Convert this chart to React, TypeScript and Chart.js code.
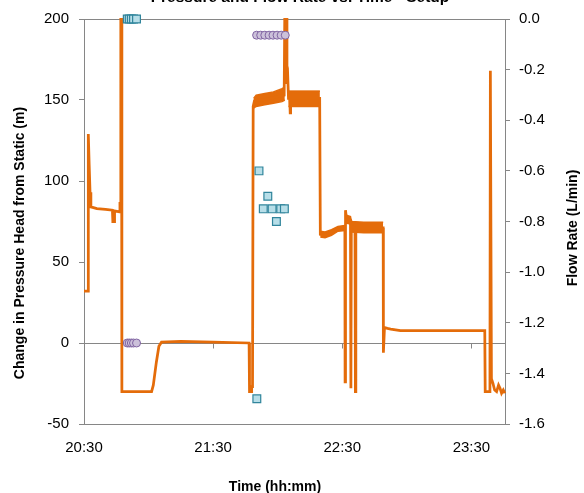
import React, { useEffect, useRef } from "react";
import { Chart, registerables } from "chart.js";

Chart.register(...registerables);

// ---- data (x = minutes after 20:30) ----
const START_MINUTES = 20 * 60 + 30;
const xTickMinutes = [0, 60, 120, 180];

// Change in pressure head from static (m), left axis
const headTime = [0, 1.9, 2.0, 2.4, 2.8, 3.2, 6, 10, 13.2, 13.4, 14.0, 14.2, 16.5, 16.7, 16.9, 17.1, 17.4, 17.6, 31.4, 32.2, 33.6, 34.8, 36.0, 45, 60, 76.7, 76.9, 77.6, 77.9, 78.3, 78.6, 79.2, 85, 93.0, 93.3, 93.6, 94.1, 94.3, 94.7, 95.0, 95.6, 95.8, 96.0, 109.5, 109.8, 112, 115, 118, 121.2, 121.3, 121.5, 121.9, 123.8, 124.0, 124.2, 125.9, 126.1, 126.3, 139.0, 139.1, 139.6, 141, 142.5, 147, 170, 186.2, 186.4, 188.6, 188.8, 189.3, 190.0, 190.8, 191.7, 192.6, 193.3, 194.0, 194.8, 195.5];
const headValue = [32, 32, 129, 110, 93, 84, 83, 82.5, 82, 75, 75, 81.5, 81, 87, 82, 260, 260, -30, -30, -26, -12, -2, 0.5, 1, 0.5, 0, -30, -30, -27, -27, 146, 149.5, 150.5, 153, 153, 260, 260, 160, 163, 151, 151, 142, 151, 151, 67, 66.5, 68.5, 70.5, 71, -24, 82, 77, 76, -28, 72, 71, -30, 71, 71, -6, 9.5, 9, 8.6, 7.6, 7.6, 7.6, -30, -30, 168, -22, -25, -29, -30, -26, -28, -31, -29, -31];

// pressure fluctuation envelopes (m)
const band1Time = [78.8, 80, 84, 88, 92, 93.3];
const band1High = [151, 153, 154, 155, 157, 158];
const band1Low = [145, 146, 147, 148, 149, 150];
const band2Time = [95.0, 100, 105, 109.6];
const band2High = [155.5, 155.5, 155.5, 155.5];
const band2Low = [146, 146, 146, 146];
const band3Time = [109.8, 112, 115, 118, 121.2];
const band3High = [69, 68.5, 70, 72, 72.5];
const band3Low = [65.5, 65, 66.5, 69, 69.5];
const band4Time = [121.6, 123.8, 124.2, 130, 135, 139.0];
const band4High = [79, 78, 75, 74.5, 74.5, 74.5];
const band4Low = [74, 73.5, 68.5, 68, 68, 68];

// measured flow rate (L/min), right axis
const flowTime = [20.1, 21.0, 22.0, 23.0, 24.4, 80.3, 81.3, 83.3, 85.4, 87.4, 89.4, 91.4, 93.1];
const flowValue = [0, 0, 0, 0, 0, -1.5, -0.6, -0.75, -0.7, -0.75, -0.8, -0.75, -0.75];

// measured head (m), left axis
const measTime = [20.1, 21.0, 22.0, 23.0, 24.4, 80.2, 82.1, 84.0, 86.0, 87.8, 89.7, 91.6, 93.5];
const measValue = [0, 0, 0, 0, 0, 190, 190, 190, 190, 190, 190, 190, 190];

const chartTitle = "Pressure and Flow Rate vs. Time - Setup";
const leftTitle = "Change in Pressure Head from Static (m)";
const rightTitle = "Flow Rate (L/min)";
const bottomTitle = "Time (hh:mm)";

const FONT = "'Liberation Sans', Arial, sans-serif";
const ORANGE = "#E46C0A";
const AXIS = "#868686";

const pts = (t: number[], v: number[]) => t.map((x, i) => ({ x, y: v[i] }));
const fmtTime = (m: number) => {
  const total = Math.round(START_MINUTES + m);
  const h = Math.floor(total / 60);
  const mm = total % 60;
  return `${h}:${mm < 10 ? "0" + mm : mm}`;
};

const decor = {
  id: "decor",
  beforeDatasetsDraw(chart: any) {
    const { ctx, chartArea, scales } = chart;
    const y0 = Math.round(scales.y.getPixelForValue(0)) + 0.5;
    ctx.save();
    ctx.strokeStyle = AXIS;
    ctx.lineWidth = 1;
    ctx.beginPath();
    ctx.moveTo(chartArea.left, y0);
    ctx.lineTo(chartArea.right, y0);
    ctx.moveTo(chartArea.left, chartArea.top + 0.5);
    ctx.lineTo(chartArea.right, chartArea.top + 0.5);
    xTickMinutes.forEach((v) => {
      const px = Math.round(scales.x.getPixelForValue(v)) + 0.5;
      ctx.moveTo(px, y0);
      ctx.lineTo(px, y0 + 5);
    });
    ctx.stroke();
    ctx.restore();
  },
  afterDraw(chart: any) {
    const { ctx } = chart;
    ctx.save();
    ctx.fillStyle = "#000";
    ctx.textAlign = "center";
    ctx.font = `bold 15.5px ${FONT}`;
    ctx.textBaseline = "alphabetic";
    ctx.fillText(chartTitle, 300, 1.5);
    ctx.font = `bold 14px ${FONT}`;
    ctx.textBaseline = "middle";
    ctx.save();
    ctx.translate(20, 243);
    ctx.rotate(-Math.PI / 2);
    ctx.fillText(leftTitle, 0, 0);
    ctx.restore();
    ctx.save();
    ctx.translate(573, 228);
    ctx.rotate(-Math.PI / 2);
    ctx.fillText(rightTitle, 0, 0);
    ctx.restore();
    ctx.fillText(bottomTitle, 275, 487);
    ctx.restore();
  },
};

export default function App() {
  const ref = useRef<HTMLCanvasElement>(null);
  useEffect(() => {
    if (!ref.current) return;
    const bandSets: any[] = [];
    const bands = [
      [band1Time, band1High, band1Low],
      [band2Time, band2High, band2Low],
      [band3Time, band3High, band3Low],
      [band4Time, band4High, band4Low],
    ];
    const baseCount = 3;
    bands.forEach(([t, hi, lo], k) => {
      const hiIndex = baseCount + k * 2;
      bandSets.push({
        label: "band high " + k,
        data: pts(t, hi),
        yAxisID: "y",
        borderColor: ORANGE,
        borderWidth: 1.5,
        pointRadius: 0,
        fill: false,
        order: 5,
      });
      bandSets.push({
        label: "band low " + k,
        data: pts(t, lo),
        yAxisID: "y",
        borderColor: ORANGE,
        backgroundColor: ORANGE,
        borderWidth: 1.5,
        pointRadius: 0,
        fill: hiIndex,
        order: 5,
      });
    });
    const chart = new Chart(ref.current, {
      type: "line",
      data: {
        datasets: [
          {
            label: "Flow rate",
            data: pts(flowTime, flowValue),
            yAxisID: "y2",
            showLine: false,
            pointStyle: "rect",
            pointRadius: 5.5,
            pointBackgroundColor: "#B7DEE8",
            pointBorderColor: "#31859C",
            pointBorderWidth: 1.2,
            clip: false,
            order: 0,
          },
          {
            label: "Measured head",
            data: pts(measTime, measValue),
            yAxisID: "y",
            showLine: false,
            pointStyle: "circle",
            pointRadius: 4,
            pointBackgroundColor: "#CCC1DA",
            pointBorderColor: "#8064A2",
            pointBorderWidth: 1,
            clip: false,
            order: 1,
          },
          {
            label: "Pressure head",
            data: pts(headTime, headValue),
            yAxisID: "y",
            borderColor: ORANGE,
            borderWidth: 2.75,
            pointRadius: 0,
            tension: 0,
            fill: false,
            clip: 1,
            order: 4,
          },
          ...bandSets,
        ],
      } as any,
      options: {
        responsive: false,
        animation: false,
        layout: { padding: { top: 12, left: 0, right: 0, bottom: 0 } },
        plugins: { legend: { display: false }, tooltip: { enabled: false }, title: { display: false } },
        scales: {
          x: {
            type: "linear",
            min: 0,
            max: 195.6,
            afterBuildTicks: (s: any) => {
              s.ticks = xTickMinutes.map((value) => ({ value }));
            },
            afterFit: (s: any) => {
              s.height = 69;
            },
            ticks: {
              callback: (v: any) => fmtTime(Number(v)),
              font: { family: FONT, size: 15 },
              color: "#000",
              padding: 15,
              maxRotation: 0,
              autoSkip: false,
            },
            grid: { drawOnChartArea: false, drawTicks: false, color: AXIS },
            border: { display: true, color: AXIS },
          },
          y: {
            position: "left",
            min: -50,
            max: 200,
            ticks: { stepSize: 50, font: { family: FONT, size: 15 }, color: "#000", padding: 10 },
            afterFit: (s: any) => {
              s.width = 84;
            },
            grid: { drawOnChartArea: false, drawTicks: true, tickLength: 5, color: AXIS },
            border: { display: true, color: AXIS },
          },
          y2: {
            position: "right",
            min: -1.6,
            max: 0,
            ticks: {
              stepSize: 0.2,
              font: { family: FONT, size: 15 },
              color: "#000",
              padding: 9,
              callback: (v: any) => Number(v).toFixed(1),
            },
            afterFit: (s: any) => {
              s.width = 79;
            },
            grid: { drawOnChartArea: false, drawTicks: true, tickLength: 5, color: AXIS },
            border: { display: true, color: AXIS },
          },
        },
      } as any,
      plugins: [decor],
    });
    return () => chart.destroy();
  }, []);
  return (
    <div style={{ position: "absolute", top: 0, left: 0, width: 584, height: 493 }}>
      <canvas ref={ref} width={584} height={493} style={{ display: "block" }} />
    </div>
  );
}
